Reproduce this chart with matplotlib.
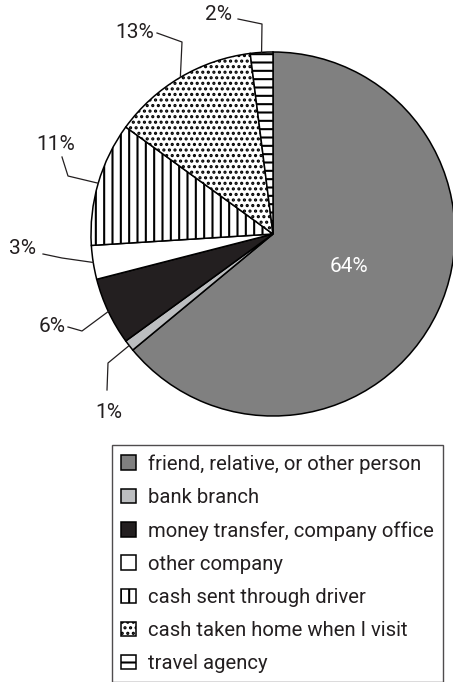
import matplotlib
matplotlib.use("Agg")
import matplotlib.pyplot as plt
import numpy as np

plt.rcParams['font.family'] = ['Roboto', 'DejaVu Sans']
plt.rcParams['hatch.linewidth'] = 1.5

# data, clockwise from the top
categories = ['friend, relative, or other person', 'bank branch',
              'money transfer, company office', 'other company',
              'cash sent through driver', 'cash taken home when I visit',
              'travel agency']
shares = [64, 1, 6, 3, 11, 13, 2]
labels = ['64%', '1%', '6%', '3%', '11%', '13%', '2%']

colors = ['#808080', '#bcbec0', '#231f20', 'white', 'white', 'white', 'white']
hatches = [None, None, None, None, '||', '...', '--']

W, H = 453, 682
fig = plt.figure(figsize=(W / 100, H / 100), dpi=100)
ax = fig.add_axes([0, 0, 1, 1])

cx, cy, r = 273, H - 234, 182
wedges, _ = ax.pie(shares, colors=colors, startangle=90, counterclock=False,
                   center=(cx, cy), radius=r, frame=True,
                   wedgeprops=dict(edgecolor='black', linewidth=1.1))
for w, h in zip(wedges, hatches):
    w.set_clip_on(False)
    if h:
        w.set_hatch(h)
ax.set_xlim(0, W)
ax.set_ylim(0, H)
ax.set_aspect('auto')
ax.axis('off')

# label layout in pixels from the top-left: text centre, elbow, line end near the text
text_pos = [(349, 267), (109, 412), (52, 326), (22, 249), (56, 144), (135, 32), (219, 14)]
elbows = [None, (108, 363), (82, 331), (62, 258), (68, 176), (182, 42), (262, 24)]
ends = [None, (107, 390), (68, 327), (43, 254), (62, 157), (157, 33), (238, 19)]

fs = 15
for w, lab, tp, el, en in zip(wedges, labels, text_pos, elbows, ends):
    if el is None:
        ax.text(tp[0], H - tp[1], lab, color='white', fontsize=fs,
                ha='center', va='center')
        continue
    ang = np.deg2rad((w.theta1 + w.theta2) / 2)
    rim = (cx + r * np.cos(ang), cy + r * np.sin(ang))
    ax.plot([rim[0], el[0], en[0]], [rim[1], H - el[1], H - en[1]],
            color='#231f20', lw=0.9, clip_on=False)
    ax.text(tp[0], H - tp[1], lab, color='#231f20', fontsize=fs,
            ha='center', va='center')

leg = ax.legend(wedges, categories, loc='upper left',
                bbox_to_anchor=(112 / W, 1 - 445 / H), fontsize=14.6,
                frameon=True, fancybox=False, shadow=False,
                handlelength=0.72, handleheight=0.72, handletextpad=0.6,
                labelspacing=0.7, borderpad=0.45, borderaxespad=0)
leg.get_frame().set_edgecolor('#231f20')
leg.get_frame().set_linewidth(1.0)
for t in leg.get_texts():
    t.set_color('#231f20')

fig.savefig('out.png', dpi=100)
